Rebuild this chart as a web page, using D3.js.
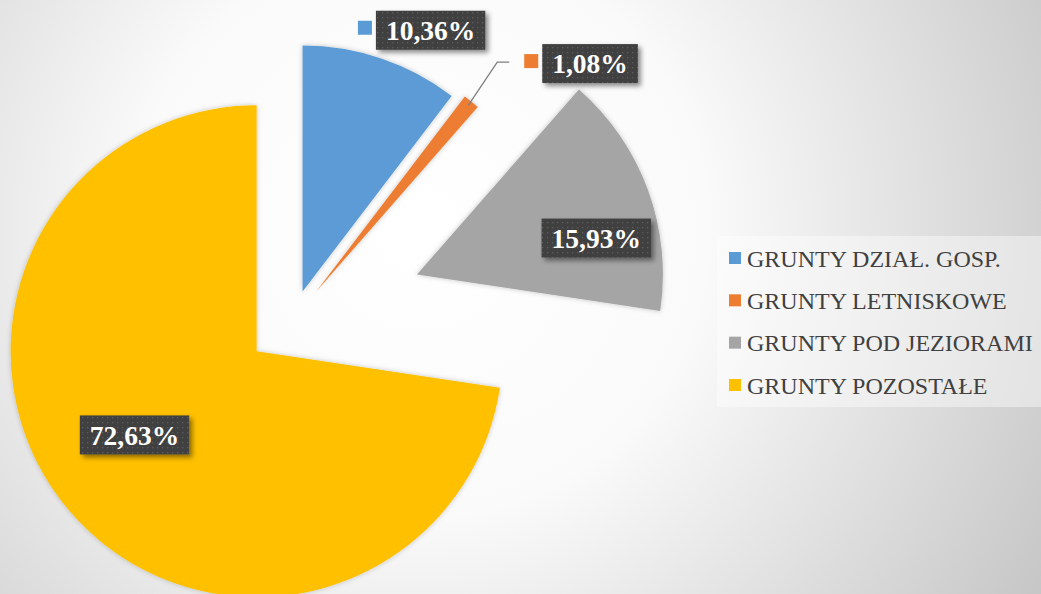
<!DOCTYPE html>
<html><head><meta charset="utf-8">
<script src="https://cdn.jsdelivr.net/npm/d3@7"></script>
<style>body{margin:0;overflow:hidden;background:#fff}</style></head>
<body>
<svg id="c" width="1041" height="594"></svg>
<script>
const categories = ["GRUNTY DZIAŁ. GOSP.", "GRUNTY LETNISKOWE", "GRUNTY POD JEZIORAMI", "GRUNTY POZOSTAŁE"];
const values = [10.36, 1.08, 15.93, 72.63];
const labelTexts = ["10,36%", "1,08%", "15,93%", "72,63%"];
const colors = ["#5B9BD5", "#ED7D31", "#A5A5A5", "#FFC000"];

// layout (style) settings
const W = 1041, H = 594;
const center = [293, 320], radius = 246;
const explode = [30, 36, 132, 48];
const labelPolar = [[26.1, 291], [50.2, 357], [78.5, 183], [235.6, 148]]; // deg, px from slice origin
const showKey = [true, true, false, false];
const leader = [false, true, false, false];

const svg = d3.select("#c");
const defs = svg.append("defs");

const bg = defs.append("radialGradient").attr("id", "bg").attr("gradientUnits", "userSpaceOnUse")
  .attr("cx", 420).attr("cy", 230).attr("r", 720);
bg.append("stop").attr("offset", "0").attr("stop-color", "#ffffff");
bg.append("stop").attr("offset", "0.4").attr("stop-color", "#fafafa");
bg.append("stop").attr("offset", "1").attr("stop-color", "#c6c6c6");

const pat = defs.append("pattern").attr("id", "dots").attr("patternUnits", "userSpaceOnUse")
  .attr("width", 5).attr("height", 5);
pat.append("rect").attr("width", 5).attr("height", 5).attr("fill", "#3f3f3f");
pat.append("rect").attr("x", 2).attr("y", 2).attr("width", 1.3).attr("height", 1.3).attr("fill", "#5c5c5c");

const sh = defs.append("filter").attr("id", "sh").attr("x", "-20%").attr("y", "-20%").attr("width", "140%").attr("height", "140%");
sh.append("feDropShadow").attr("dx", 0).attr("dy", 0).attr("stdDeviation", 2.5)
  .attr("flood-color", "#000").attr("flood-opacity", 0.22);
const bsh = defs.append("filter").attr("id", "bsh").attr("x", "-20%").attr("y", "-30%").attr("width", "150%").attr("height", "170%");
bsh.append("feDropShadow").attr("dx", 3).attr("dy", 3).attr("stdDeviation", 2.5)
  .attr("flood-color", "#000").attr("flood-opacity", 0.45);

svg.append("rect").attr("width", W).attr("height", H).attr("fill", "url(#bg)");

const pie = d3.pie().sort(null).value(d => d)(values);
const arc = d3.arc().innerRadius(0).outerRadius(radius);
const rad = a => a * Math.PI / 180;

const origins = pie.map((p, i) => {
  const m = (p.startAngle + p.endAngle) / 2;
  return [center[0] + explode[i] * Math.sin(m), center[1] - explode[i] * Math.cos(m)];
});

svg.append("g").selectAll("path").data(pie).join("path")
  .attr("transform", (d, i) => `translate(${origins[i][0]},${origins[i][1]})`)
  .attr("d", arc)
  .attr("fill", (d, i) => colors[i])
  .attr("filter", "url(#sh)");

const lineG = svg.append("g");
const lg = svg.append("g");
pie.forEach((p, i) => {
  const o = origins[i];
  const [la, ld] = labelPolar[i];
  const cx = o[0] + ld * Math.sin(rad(la)), cy = o[1] - ld * Math.cos(rad(la));
  const g = lg.append("g");
  const box = g.append("rect").attr("fill", "url(#dots)").attr("filter", "url(#bsh)");
  const t = g.append("text").attr("x", cx).attr("y", cy).attr("text-anchor", "middle").attr("dy", "0.35em")
    .attr("font-family", "'Liberation Serif','Times New Roman',serif").attr("font-weight", "bold")
    .attr("font-size", 27.5).attr("fill", "#fff").text(labelTexts[i]);
  const bb = t.node().getBBox();
  const bw = bb.width + 20, bh = 39;
  box.attr("x", cx - bw / 2).attr("y", cy - bh / 2).attr("width", bw).attr("height", bh);
  if (leader[i]) {
    const m = (p.startAngle + p.endAngle) / 2;
    const sx = o[0] + radius * 0.98 * Math.sin(m), sy = o[1] - radius * 0.98 * Math.cos(m);
    const ex = cx - bw / 2 - 33;
    lineG.append("path").attr("fill", "none").attr("stroke", "#7f7f7f").attr("stroke-width", 1.3)
      .attr("d", `M${sx},${sy}L${ex - 12},${cy - 1.5}L${ex},${cy - 1.5}`);
  }
  if (showKey[i]) {
    g.append("rect").attr("x", cx - bw / 2 - 18).attr("y", cy - 9.5).attr("width", 14).attr("height", 14)
      .attr("fill", colors[i]);
  }
});

// legend
const leg = svg.append("g");
leg.append("rect").attr("x", 717).attr("y", 236).attr("width", 324).attr("height", 171)
  .attr("fill", "#fff").attr("fill-opacity", 0.42);
const rowY = d3.scalePoint().domain(categories).range([258, 385]);
categories.forEach((c, i) => {
  const y = rowY(c);
  leg.append("rect").attr("x", 729).attr("y", y - 6).attr("width", 12).attr("height", 12).attr("fill", colors[i]);
  leg.append("text").attr("x", 747).attr("y", y).attr("dy", "0.36em")
    .attr("font-family", "'Liberation Serif','Times New Roman',serif").attr("font-size", 24)
    .attr("fill", "#404040").text(c);
});
</script>
</body></html>
